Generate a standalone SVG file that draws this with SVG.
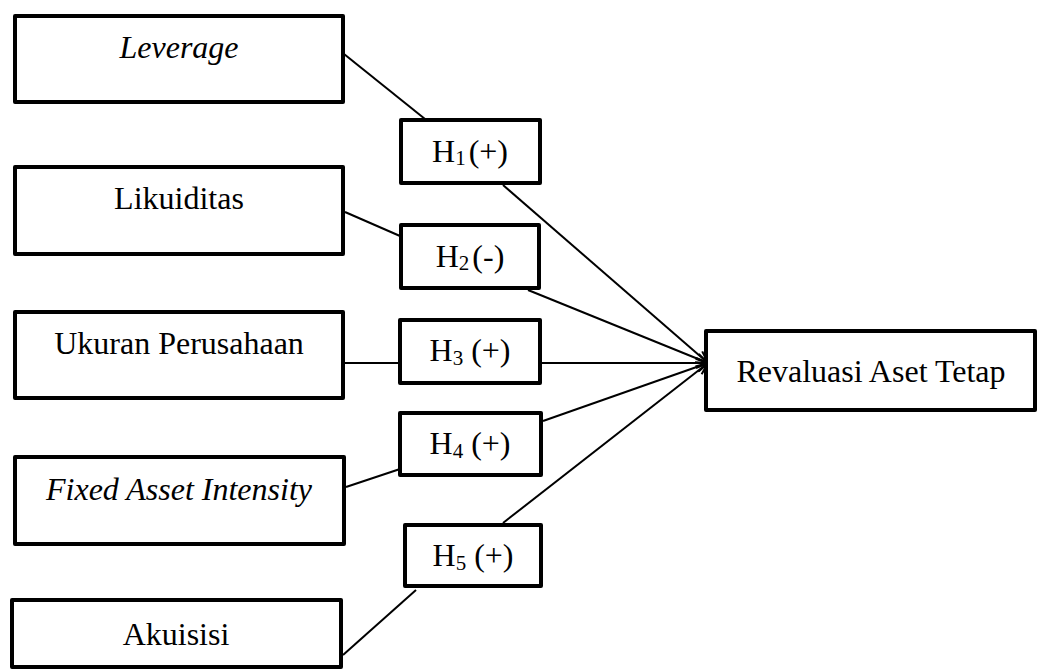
<svg xmlns="http://www.w3.org/2000/svg" width="1039" height="671" viewBox="0 0 1039 671">
<style>
.box{fill:#fff;stroke:#000;stroke-width:4;stroke-linejoin:round}
text{font-family:'Liberation Serif','Times New Roman','DejaVu Serif',serif;font-size:32px;fill:#000;text-anchor:middle}
.it{font-style:italic}
.sub{font-size:21px}
.c{stroke:#000;stroke-width:2;fill:none}
</style>
<defs>
<marker id="arr" markerUnits="userSpaceOnUse" viewBox="0 0 14 12" markerWidth="14" markerHeight="12" refX="13" refY="6" orient="auto">
<path d="M1,1 L13,6 L1,11" fill="none" stroke="#000" stroke-width="2"/>
</marker>
</defs>
<rect width="1039" height="671" fill="#fff"/>
<g id="connectors">
<line class="c" x1="344" y1="54" x2="425" y2="119"/>
<line class="c" x1="503" y1="185" x2="708" y2="363" marker-end="url(#arr)"/>
<line class="c" x1="345" y1="212" x2="400" y2="236"/>
<line class="c" x1="528" y1="290" x2="708" y2="363" marker-end="url(#arr)"/>
<line class="c" x1="345" y1="363" x2="400" y2="363"/>
<line class="c" x1="542" y1="363" x2="708" y2="363" marker-end="url(#arr)"/>
<line class="c" x1="346" y1="487" x2="400" y2="469"/>
<line class="c" x1="543" y1="421" x2="708" y2="363" marker-end="url(#arr)"/>
<line class="c" x1="343" y1="655" x2="416" y2="590"/>
<line class="c" x1="503" y1="523" x2="708" y2="363" marker-end="url(#arr)"/>
</g>
<g id="leverage"><rect class="box" x="15" y="16" width="328" height="86"/><text class="it" x="179" y="58" font-family="Liberation Serif, serif">Leverage</text></g>
<g id="likuiditas"><rect class="box" x="15" y="167" width="328" height="87"/><text x="179" y="209" font-family="Liberation Serif, serif">Likuiditas</text></g>
<g id="ukuran"><rect class="box" x="15" y="312" width="328" height="86"/><text x="179" y="354" font-family="Liberation Serif, serif">Ukuran Perusahaan</text></g>
<g id="fixed"><rect class="box" x="15" y="457" width="329" height="87"/><text class="it" x="179" y="500" font-family="Liberation Serif, serif">Fixed Asset Intensity</text></g>
<g id="akuisisi"><rect class="box" x="12" y="600" width="329" height="67"/><text x="176" y="645" font-family="Liberation Serif, serif">Akuisisi</text></g>
<g id="h1"><rect class="box" x="401" y="120" width="139" height="63"/><text x="470" y="162" font-family="Liberation Serif, serif">H<tspan class="sub" dy="3">1</tspan><tspan dy="-3" dx="3">(+)</tspan></text></g>
<g id="h2"><rect class="box" x="401" y="225" width="138" height="63"/><text x="470" y="267" font-family="Liberation Serif, serif">H<tspan class="sub" dy="3">2</tspan><tspan dy="-3" dx="3">(-)</tspan></text></g>
<g id="h3"><rect class="box" x="400" y="320" width="140" height="63"/><text x="470" y="361" font-family="Liberation Serif, serif">H<tspan class="sub" dy="4">3</tspan><tspan dy="-4"> (+)</tspan></text></g>
<g id="h4"><rect class="box" x="400" y="413" width="141" height="62"/><text x="470" y="454" font-family="Liberation Serif, serif">H<tspan class="sub" dy="4">4</tspan><tspan dy="-4"> (+)</tspan></text></g>
<g id="h5"><rect class="box" x="405" y="525" width="136" height="61"/><text x="473" y="566" font-family="Liberation Serif, serif">H<tspan class="sub" dy="4">5</tspan><tspan dy="-4"> (+)</tspan></text></g>
<g id="revaluasi"><rect class="box" x="706" y="331" width="329" height="79"/><text x="871" y="382" font-family="Liberation Serif, serif">Revaluasi Aset Tetap</text></g>
</svg>
